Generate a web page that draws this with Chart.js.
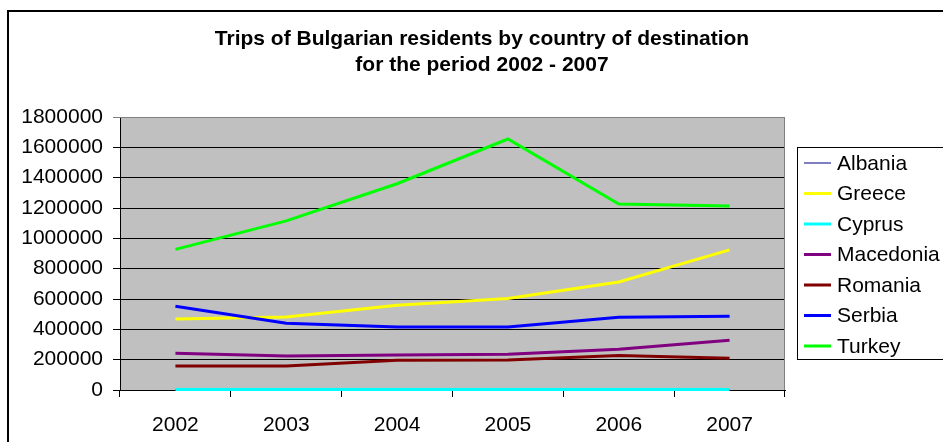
<!DOCTYPE html>
<html>
<head>
<meta charset="utf-8">
<script src="https://cdn.jsdelivr.net/npm/chart.js@4.4.0/dist/chart.umd.min.js"></script>
<style>
  html, body { margin: 0; padding: 0; background: #fff; }
  #wrap { width: 943px; height: 442px; }
</style>
</head>
<body>
<div id="wrap"><canvas id="myChart" width="943" height="442"></canvas></div>
<script>
const years = ['2002', '2003', '2004', '2005', '2006', '2007'];

const albania   = [2000, 2000, 2000, 2000, 2000, 2000];
const greece    = [468000, 482000, 558000, 604000, 712000, 924000];
const cyprus    = [4000, 4000, 4000, 4000, 4000, 4000];
const macedonia = [243000, 224000, 230000, 236000, 268000, 328000];
const romania   = [158000, 158000, 196000, 197000, 228000, 210000];
const serbia    = [552000, 440000, 415000, 415000, 480000, 486000];
const turkey    = [927000, 1115000, 1360000, 1655000, 1226000, 1213000];

const yTicks = [0, 200000, 400000, 600000, 800000, 1000000, 1200000, 1400000, 1600000, 1800000];

const titleLines = ['Trips of Bulgarian residents by country of destination', 'for the period 2002 - 2007'];

const FONT = '"Liberation Sans", Arial, sans-serif';

const series = [
  {label: 'Albania',   data: albania,   color: '#000080', width: 1},
  {label: 'Greece',    data: greece,    color: '#FFFF00', width: 3},
  {label: 'Cyprus',    data: cyprus,    color: '#00FFFF', width: 3},
  {label: 'Macedonia', data: macedonia, color: '#800080', width: 3},
  {label: 'Romania',   data: romania,   color: '#800000', width: 3},
  {label: 'Serbia',    data: serbia,    color: '#0000FF', width: 3},
  {label: 'Turkey',    data: turkey,    color: '#00FF00', width: 3},
];

// plot background, frame, title and legend box (Excel look)
const excelFrame = {
  id: 'excelFrame',
  beforeDraw(chart) {
    const {ctx, chartArea: a} = chart;
    ctx.save();
    ctx.fillStyle = '#C0C0C0';
    ctx.fillRect(a.left, a.top, a.right - a.left, a.bottom - a.top);
    ctx.restore();
  },
  afterDatasetsDraw(chart) {
    const {ctx, chartArea: a} = chart;
    ctx.save();
    // gray top/right border of plot
    ctx.strokeStyle = '#808080';
    ctx.lineWidth = 1;
    ctx.beginPath();
    ctx.moveTo(a.left, a.top + 0.5);
    ctx.lineTo(a.right - 0.5, a.top + 0.5);
    ctx.lineTo(a.right - 0.5, a.bottom);
    ctx.stroke();

    // outer chart border
    ctx.strokeStyle = '#000';
    ctx.lineWidth = 2;
    ctx.beginPath();
    ctx.moveTo(8, 442);
    ctx.lineTo(8, 11);
    ctx.lineTo(943, 11);
    ctx.stroke();

    // title
    ctx.fillStyle = '#000';
    ctx.font = 'bold 21px ' + FONT;
    ctx.textAlign = 'center';
    ctx.textBaseline = 'middle';
    ctx.fillText(titleLines[0], 482, 39);
    ctx.fillText(titleLines[1], 482, 65);

    // legend
    ctx.lineWidth = 1;
    ctx.strokeStyle = '#000';
    ctx.strokeRect(797.5, 147.5, 160, 212);
    ctx.font = '21px ' + FONT;
    ctx.textAlign = 'left';
    series.forEach((s, i) => {
      const y = 163 + i * 30.5;
      ctx.strokeStyle = s.color;
      ctx.lineWidth = s.width;
      ctx.beginPath();
      ctx.moveTo(804, y);
      ctx.lineTo(831, y);
      ctx.stroke();
      ctx.fillStyle = '#000';
      ctx.fillText(s.label, 837, y + 1);
    });
    ctx.restore();
  }
};

const ctx = document.getElementById('myChart').getContext('2d');

new Chart(ctx, {
  type: 'line',
  data: {
    labels: years,
    datasets: series.map((s, i) => ({
      label: s.label,
      data: s.data,
      borderColor: s.color,
      backgroundColor: s.color,
      borderWidth: s.width,
      pointRadius: 0,
      tension: 0,
      clip: false,
      order: series.length - i,
    })),
  },
  options: {
    responsive: false,
    animation: false,
    layout: {padding: {left: 0, right: 158, top: 117, bottom: 0}},
    plugins: {
      legend: {display: false},
      title: {display: false},
      tooltip: {enabled: false},
    },
    scales: {
      x: {
        offset: true,
        grid: {
          offset: true,
          drawOnChartArea: false,
          drawTicks: true,
          tickLength: 7,
          color: '#000',
        },
        border: {color: '#000', width: 1},
        ticks: {
          color: '#000',
          font: {family: FONT, size: 21},
          padding: 16,
          maxRotation: 0,
        },
        afterFit(scale) { scale.height = 52; },
      },
      y: {
        min: 0,
        max: 1800000,
        afterBuildTicks(scale) { scale.ticks = yTicks.map(v => ({value: v})); },
        grid: {
          color: (c) => c.tick && c.tick.value === 1800000 ? '#808080' : '#000',
          tickLength: 7,
          drawTicks: true,
        },
        border: {color: '#000', width: 1},
        ticks: {
          color: '#000',
          font: {family: FONT, size: 21},
          padding: 10,
          callback: (v) => String(v),
        },
        afterFit(scale) { scale.width = 120; },
      },
    },
  },
  plugins: [excelFrame],
});
</script>
</body>
</html>
